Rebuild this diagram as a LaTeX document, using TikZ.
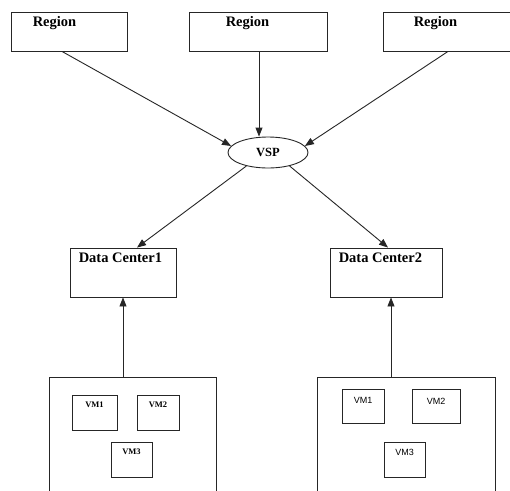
\documentclass[tikz,border=0pt]{standalone}
\usepackage{fontspec}
\setmainfont{Liberation Serif}
\newfontfamily\vmsans{Liberation Sans}
\usetikzlibrary{positioning,arrows.meta,shapes.geometric}

\tikzset{
  box/.style={draw=black!85,line width=0.9pt,inner sep=0pt},
  hdr/.style={inner sep=0pt,font=\fontsize{14.5}{16}\selectfont\bfseries},
  vmtxt/.style={inner sep=0pt,font=\fontsize{8.5}{10}\selectfont\bfseries},
  vmtxtb/.style={inner sep=0pt,font=\vmsans\fontsize{9}{10}\selectfont},
  arr/.style={draw=black!85,line width=0.9pt,-{Triangle[length=9pt,width=7pt]}}
}

\begin{document}
\begin{tikzpicture}[x=1pt,y=-1pt]
  \clip (0,0) rectangle (510,490);
  \fill[white] (0,0) rectangle (510,490);
  % regions
  \node[box,minimum width=116pt,minimum height=39pt] (r1) at (69,31.5) {};
  \node[box,minimum width=138pt,minimum height=39pt] (r2) at (258,31.5) {};
  \node[box,minimum width=147pt,minimum height=39pt] (r3) at (456.5,31.5) {};
  \node[hdr,below right=5pt and 22pt of r1.north west] (r1t) {Region};
  \node[hdr,below right=5pt and 37pt of r2.north west] (r2t) {Region};
  \node[hdr,below right=5pt and 31pt of r3.north west] (r3t) {Region};
  % service provider
  \node[box,ellipse,minimum width=80pt,minimum height=31pt,
        font=\fontsize{12.5}{14}\selectfont\bfseries] (vsp) at (268,152.5) {VSP};
  % data centers
  \node[box,minimum width=106pt,minimum height=49pt] (dc1) at (123,272.5) {};
  \node[box,minimum width=112pt,minimum height=49pt] (dc2) at (386,272.5) {};
  \node[hdr,below right=5pt and 9pt of dc1.north west] (dc1t) {Data Center1};
  \node[hdr,below right=5pt and 9pt of dc2.north west] (dc2t) {Data Center2};
  % hosts with VMs
  \node[box,minimum width=167pt,minimum height=123pt] (c1) at (132.5,438.5) {};
  \node[box,minimum width=178pt,minimum height=123pt] (c2) at (406,438.5) {};
  \node[box,minimum width=45pt,minimum height=35pt] (v11) at (94.5,412.5) {};
  \node[box,minimum width=42pt,minimum height=35pt] (v12) at (158,412.5) {};
  \node[box,minimum width=41pt,minimum height=35pt] (v13) at (131.5,459.5) {};
  \node[vmtxt,below=7pt of v11.north] (v11t) {VM1};
  \node[vmtxt,below=7pt of v12.north] (v12t) {VM2};
  \node[vmtxt,below=7pt of v13.north] (v13t) {VM3};
  \node[box,minimum width=42pt,minimum height=34pt] (v21) at (363,406) {};
  \node[box,minimum width=48pt,minimum height=34pt] (v22) at (436,406) {};
  \node[box,minimum width=41pt,minimum height=35pt] (v23) at (404.5,459.5) {};
  \node[vmtxtb,below=9pt of v21.north] (v21t) {VM1};
  \node[vmtxtb,below=9pt of v22.north] (v22t) {VM2};
  \node[vmtxtb,below=7pt of v23.north] (v23t) {VM3};
  % connectors
  \draw[arr] ([xshift=-7pt]r1.south) -- (vsp.170);
  \draw[arr] ([xshift=1pt]r2.south) -- ([xshift=-9pt]vsp.north);
  \draw[arr] ([xshift=-8.5pt]r3.south) -- (vsp.10);
  \draw[arr] (vsp.212) -- ([xshift=14pt]dc1.north);
  \draw[arr] (vsp.328) -- ([xshift=2pt]dc2.north);
  \draw[arr] (c1.north -| dc1.south) -- (dc1.south);
  \draw[arr] ([xshift=5pt]c2.north -| dc2.south) -- ([xshift=5pt]dc2.south);
\end{tikzpicture}
\end{document}
